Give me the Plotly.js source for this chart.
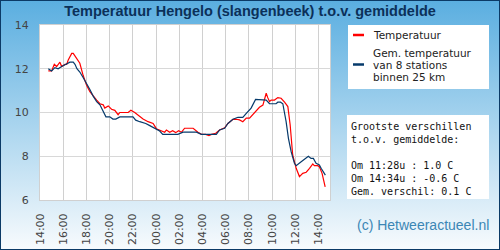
<!DOCTYPE html>
<html>
<head>
<meta charset="utf-8">
<script src="https://cdn.plot.ly/plotly-3.0.1.min.js"></script>
<style>
  html, body { margin: 0; padding: 0; }
  #wrap {
    width: 500px; height: 250px; position: relative;
    background: linear-gradient(to bottom, #5aaee0 0%, #f8fbfd 100%);
    box-shadow: inset 0 0 0 1px #0b3a66;
  }
  #chart { width: 500px; height: 250px; }
</style>
</head>
<body>
<div id="wrap"><div id="chart"></div></div>
<script>
// Temperatuur Hengelo (slangenbeek) – red series
const tempTimes = [
  "2024-01-01 14:43","2024-01-01 15:00","2024-01-01 15:14","2024-01-01 15:26","2024-01-01 15:43",
  "2024-01-01 15:52","2024-01-01 16:09","2024-01-01 16:18","2024-01-01 16:26","2024-01-01 16:44",
  "2024-01-01 16:52","2024-01-01 17:09","2024-01-01 17:26","2024-01-01 17:43","2024-01-01 18:01",
  "2024-01-01 18:18","2024-01-01 18:35","2024-01-01 18:53","2024-01-01 19:10","2024-01-01 19:27",
  "2024-01-01 19:35","2024-01-01 19:53","2024-01-01 20:10","2024-01-01 20:27","2024-01-01 20:44",
  "2024-01-01 20:53","2024-01-01 21:36","2024-01-01 21:50","2024-01-01 22:10","2024-01-01 22:36",
  "2024-01-01 22:53","2024-01-01 23:19","2024-01-01 23:45","2024-01-02 00:02","2024-01-02 00:19",
  "2024-01-02 00:45","2024-01-02 00:54","2024-01-02 01:11","2024-01-02 01:26","2024-01-02 01:42",
  "2024-01-02 01:57","2024-01-02 02:12","2024-01-02 02:28","2024-01-02 03:03","2024-01-02 03:12",
  "2024-01-02 03:37","2024-01-02 03:55","2024-01-02 04:17","2024-01-02 04:34","2024-01-02 04:47",
  "2024-01-02 05:09","2024-01-02 05:29","2024-01-02 05:55","2024-01-02 06:12","2024-01-02 06:38",
  "2024-01-02 06:55","2024-01-02 07:12","2024-01-02 07:29","2024-01-02 07:47","2024-01-02 08:04",
  "2024-01-02 08:19","2024-01-02 08:38","2024-01-02 08:55","2024-01-02 09:13","2024-01-02 09:21",
  "2024-01-02 09:30","2024-01-02 09:38","2024-01-02 09:47","2024-01-02 09:56","2024-01-02 10:13",
  "2024-01-02 10:30","2024-01-02 10:47","2024-01-02 11:05","2024-01-02 11:22","2024-01-02 11:34",
  "2024-01-02 11:39","2024-01-02 11:47","2024-01-02 12:05","2024-01-02 12:22","2024-01-02 12:39",
  "2024-01-02 12:57","2024-01-02 13:14","2024-01-02 13:31","2024-01-02 13:39","2024-01-02 13:56",
  "2024-01-02 14:05","2024-01-02 14:19","2024-01-02 14:27","2024-01-02 14:35"
];
const tempValues = [
  11.9, 11.9, 12.2, 12.1, 12.3,
  12.1, 12.2, 12.2, 12.4, 12.7,
  12.7, 12.5, 12.25, 11.7, 11.25,
  10.95, 10.75, 10.57, 10.4, 10.35,
  10.2, 10.3, 10.15, 10.1, 9.9,
  10.0, 10.0, 10.1, 10.0, 9.8,
  9.7, 9.58, 9.5, 9.26, 9.2,
  9.1, 9.2, 9.1, 9.17, 9.08,
  9.17, 9.1, 9.28, 9.3, 9.28,
  9.1, 9.0, 9.0, 8.94, 9.0,
  9.05, 9.2, 9.3, 9.5, 9.69,
  9.69, 9.66, 9.58, 9.74, 9.74,
  9.89, 10.1, 10.24, 10.34, 10.65,
  10.88, 10.68, 10.5, 10.57, 10.57,
  10.68, 10.65, 10.47, 10.27, 9.43,
  8.82, 8.06, 7.45, 7.07, 7.22,
  7.27, 7.45, 7.65, 7.57, 7.57,
  7.52, 7.22, 6.91, 6.6
];

// Gem. temperatuur van 8 stations binnen 25 km – dark blue series
const avgTimes = [
  "2024-01-01 14:43","2024-01-01 15:00","2024-01-01 15:17","2024-01-01 15:34","2024-01-01 15:52",
  "2024-01-01 16:18","2024-01-01 16:35","2024-01-01 16:52","2024-01-01 17:01","2024-01-01 17:11",
  "2024-01-01 17:26","2024-01-01 17:43","2024-01-01 18:01","2024-01-01 18:18","2024-01-01 18:35",
  "2024-01-01 18:53","2024-01-01 19:10","2024-01-01 19:25","2024-01-01 19:41","2024-01-01 20:01",
  "2024-01-01 20:17","2024-01-01 20:32","2024-01-01 20:53","2024-01-01 22:01","2024-01-01 22:15",
  "2024-01-01 22:36","2024-01-01 23:07","2024-01-01 23:28","2024-01-02 00:02","2024-01-02 00:19",
  "2024-01-02 00:35","2024-01-02 01:53","2024-01-02 02:20","2024-01-02 03:29","2024-01-02 03:55",
  "2024-01-02 05:12","2024-01-02 05:29","2024-01-02 05:55","2024-01-02 06:12","2024-01-02 06:21",
  "2024-01-02 06:38","2024-01-02 07:04","2024-01-02 07:29","2024-01-02 07:47","2024-01-02 08:12",
  "2024-01-02 08:35","2024-01-02 09:04","2024-01-02 09:30","2024-01-02 09:47","2024-01-02 10:21",
  "2024-01-02 10:30","2024-01-02 10:44","2024-01-02 10:56","2024-01-02 11:05","2024-01-02 11:13",
  "2024-01-02 11:25","2024-01-02 11:39","2024-01-02 11:56","2024-01-02 12:05","2024-01-02 12:31",
  "2024-01-02 12:57","2024-01-02 13:08","2024-01-02 13:22","2024-01-02 13:34","2024-01-02 13:48",
  "2024-01-02 14:05","2024-01-02 14:14","2024-01-02 14:27","2024-01-02 14:36"
];
const avgValues = [
  12.0, 11.9, 12.05, 12.0, 12.1,
  12.2, 12.3, 12.3, 12.2, 12.0,
  11.85, 11.6, 11.35, 11.05, 10.75,
  10.5, 10.35, 10.1, 9.8, 9.8,
  9.7, 9.7, 9.8, 9.8, 9.65,
  9.58, 9.5, 9.4, 9.25, 9.15,
  9.0, 9.0, 9.1, 9.1, 9.0,
  9.0, 9.2, 9.28, 9.5, 9.58,
  9.69, 9.78, 9.78, 9.96, 10.2,
  10.6, 10.6, 10.57, 10.4, 10.4,
  10.47, 10.47, 10.4, 10.04, 9.58,
  8.82, 8.21, 7.68, 7.57, 7.75,
  7.93, 8.0, 7.9, 7.9, 7.68,
  7.6, 7.45, 7.27, 7.14
];

const titleText = "Temperatuur Hengelo (slangenbeek) t.o.v. gemiddelde";
const seriesNames = ["Temperatuur", "Gem. temperatuur", "van 8 stations", "binnen 25 km"];
const statsLines = [
  "Grootste verschillen",
  "t.o.v. gemiddelde:",
  "",
  "Om 11:28u : 1.0 C",
  "Om 14:34u : -0.6 C",
  "Gem. verschil: 0.1 C"
];
const creditText = "(c) Hetweeractueel.nl";
const xRange = ["2024-01-01 14:00", "2024-01-02 15:00"];
const yRange = [6, 14];

const RED = "#ff0000", BLUE = "#063a6b";
const tickFont = {family: "DejaVu Sans", size: 11, color: "#444444"};

const traces = [
  {x: tempTimes, y: tempValues, type: "scatter", mode: "lines",
   line: {color: RED, width: 1.2}, name: seriesNames[0], showlegend: false, hoverinfo: "skip"},
  {x: avgTimes, y: avgValues, type: "scatter", mode: "lines",
   line: {color: BLUE, width: 1.2}, name: seriesNames[1], showlegend: false, hoverinfo: "skip"}
];

const W = 290, H = 175, L = 40, T = 25;
const px = v => (v - L) / W;
const py = v => (T + H - v) / H;
const legFont = {family: "DejaVu Sans", size: 10.5, color: "#222222"};

const layout = {
  width: 500, height: 250,
  margin: {l: L, r: 170, t: T, b: 50},
  paper_bgcolor: "rgba(0,0,0,0)",
  plot_bgcolor: "#ffffff",
  showlegend: false,
  title: {text: titleText, x: 0.5, xref: "container", xanchor: "center",
          y: 1 - 11 / 250, yref: "container", yanchor: "middle",
          font: {family: "Liberation Sans", size: 14.5, color: "#0b3059", weight: "bold"}},
  xaxis: {
    type: "date", range: xRange, tick0: xRange[0], dtick: 7200000, tickformat: "%H:%M",
    tickangle: -90, tickfont: tickFont, showgrid: true, gridcolor: "#d0d0d0", gridwidth: 1,
    zeroline: false, showline: true, linecolor: "#d0d0d0", mirror: true, ticks: "",
    ticklabelstandoff: 8, fixedrange: true
  },
  yaxis: {
    range: yRange, dtick: 2, tick0: 6, tickfont: tickFont, showgrid: true, gridcolor: "#d8d8d8",
    gridwidth: 1, zeroline: false, showline: true, linecolor: "#d0d0d0", mirror: true, ticks: "",
    ticklabelstandoff: 8, fixedrange: true
  },
  shapes: [
    {type: "rect", xref: "paper", yref: "paper", x0: px(348), x1: px(489), y0: py(89), y1: py(25),
     fillcolor: "#ffffff", line: {width: 0}},
    {type: "rect", xref: "paper", yref: "paper", x0: px(347), x1: px(489), y0: py(199), y1: py(115),
     fillcolor: "#ffffff", line: {width: 0}},
    {type: "line", xref: "paper", yref: "paper", x0: px(353), x1: px(364), y0: py(35), y1: py(35),
     line: {color: RED, width: 2.5}},
    {type: "line", xref: "paper", yref: "paper", x0: px(353), x1: px(364), y0: py(64.5), y1: py(64.5),
     line: {color: BLUE, width: 2.5}}
  ],
  annotations: [
    {text: seriesNames[0], xref: "paper", yref: "paper", x: px(372), y: py(35), xanchor: "left", yanchor: "middle",
     showarrow: false, borderpad: 0, font: legFont},
    {text: seriesNames[1], xref: "paper", yref: "paper", x: px(372), y: py(52.5), xanchor: "left", yanchor: "middle",
     showarrow: false, borderpad: 0, font: legFont},
    {text: seriesNames[2], xref: "paper", yref: "paper", x: px(372), y: py(64.5), xanchor: "left", yanchor: "middle",
     showarrow: false, borderpad: 0, font: legFont},
    {text: seriesNames[3], xref: "paper", yref: "paper", x: px(372), y: py(76.5), xanchor: "left", yanchor: "middle",
     showarrow: false, borderpad: 0, font: legFont},
    {text: statsLines.map(s => s === "" ? " " : s).join("<br>"), xref: "paper", yref: "paper",
     x: px(349), y: py(118.5), xanchor: "left", yanchor: "top", align: "left",
     showarrow: false, font: {family: "DejaVu Sans Mono", size: 10, color: "#111111"}},
    {text: creditText, xref: "paper", yref: "paper", x: px(423), y: py(225), xanchor: "center", yanchor: "middle",
     showarrow: false, font: {family: "Liberation Sans", size: 14, color: "#3b86b5"}}
  ]
};

Plotly.newPlot("chart", traces, layout, {staticPlot: true, displayModeBar: false});
</script>
</body>
</html>
